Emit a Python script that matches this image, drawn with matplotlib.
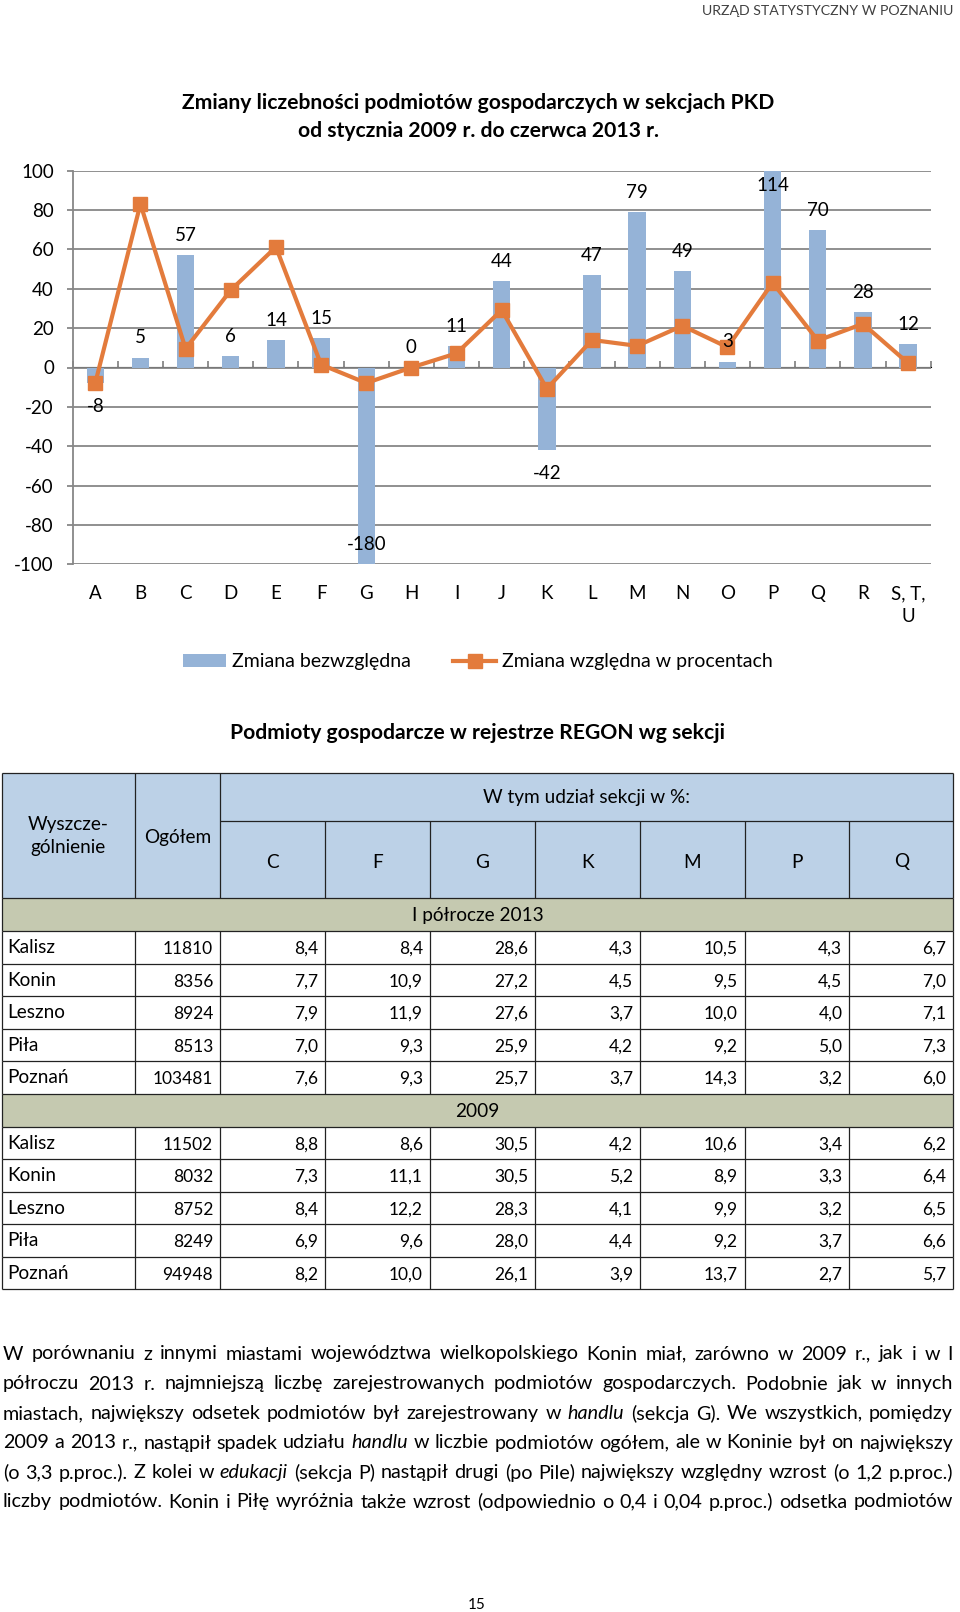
import numpy as np
import matplotlib.pyplot as plt
from matplotlib.patches import Rectangle, Patch
from matplotlib.lines import Line2D

# =============================================================================
# Data
# =============================================================================
sekcje = ['A', 'B', 'C', 'D', 'E', 'F', 'G', 'H', 'I', 'J', 'K', 'L', 'M',
          'N', 'O', 'P', 'Q', 'R', 'S, T,\nU']
zmiana_bezwzgledna = [-8, 5, 57, 6, 14, 15, -180, 0, 11, 44, -42, 47, 79, 49,
                      3, 114, 70, 28, 12]
zmiana_procent = [-7.9, 83.1, 9.5, 39.3, 61.2, 1.5, -7.9, 0.0, 7.2, 29.2,
                  -10.8, 14.0, 11.0, 21.2, 10.3, 43.1, 13.7, 22.2, 2.2]

miasta = ['Kalisz', 'Konin', 'Leszno', 'Piła', 'Poznań']
kolumny = ['C', 'F', 'G', 'K', 'M', 'P', 'Q']
ogolem_2013 = [11810, 8356, 8924, 8513, 103481]
udzialy_2013 = [[8.4, 8.4, 28.6, 4.3, 10.5, 4.3, 6.7],
                [7.7, 10.9, 27.2, 4.5, 9.5, 4.5, 7.0],
                [7.9, 11.9, 27.6, 3.7, 10.0, 4.0, 7.1],
                [7.0, 9.3, 25.9, 4.2, 9.2, 5.0, 7.3],
                [7.6, 9.3, 25.7, 3.7, 14.3, 3.2, 6.0]]
ogolem_2009 = [11502, 8032, 8752, 8249, 94948]
udzialy_2009 = [[8.8, 8.6, 30.5, 4.2, 10.6, 3.4, 6.2],
                [7.3, 11.1, 30.5, 5.2, 8.9, 3.3, 6.4],
                [8.4, 12.2, 28.3, 4.1, 9.9, 3.2, 6.5],
                [6.9, 9.6, 28.0, 4.4, 9.2, 3.7, 6.6],
                [8.2, 10.0, 26.1, 3.9, 13.7, 2.7, 5.7]]

# paragraph lines, *word* = italic
akapit = [
    "W porównaniu z innymi miastami województwa wielkopolskiego Konin miał, zarówno w 2009 r., jak i w I",
    "półroczu 2013 r. najmniejszą liczbę zarejestrowanych podmiotów gospodarczych. Podobnie jak w innych",
    "miastach, największy odsetek podmiotów był zarejestrowany w *handlu* (sekcja G). We wszystkich, pomiędzy",
    "2009 a 2013 r., nastąpił spadek udziału *handlu* w liczbie podmiotów ogółem, ale w Koninie był on największy",
    "(o 3,3 p.proc.). Z kolei w *edukacji* (sekcja P) nastąpił drugi (po Pile) największy względny wzrost (o 1,2 p.proc.)",
    "liczby podmiotów. Konin i Piłę wyróżnia także wzrost (odpowiednio o 0,4 i 0,04 p.proc.) odsetka podmiotów",
]

# =============================================================================
# Settings
# =============================================================================
W, H = 960, 1612
blue = '#95B3D7'
orange = '#E37B3C'
grid_gray = '#878787'
head_blue = '#BCD1E7'
band_col = '#C5C9B0'
line_col = '#222222'
fs_chart = 13.5
fs_word = 13.7
fs_num = 12.5

plt.rcParams['font.family'] = ['Lato', 'DejaVu Sans']
plt.rcParams['axes.unicode_minus'] = False

fig = plt.figure(figsize=(W / 100, H / 100), dpi=100)

# overlay axes in pixel coordinates for texts and the table
ov = fig.add_axes([0, 0, 1, 1])
ov.set_xlim(0, W)
ov.set_ylim(H, 0)
ov.axis('off')

ov.text(953, 11, 'URZĄD STATYSTYCZNY W POZNANIU', ha='right', va='center',
        fontsize=10.2, color='#404040')

# =============================================================================
# Chart
# =============================================================================
ov.text(478, 103, 'Zmiany liczebności podmiotów gospodarczych w sekcjach PKD',
        ha='center', va='center', fontsize=15.2, fontweight='bold')
ov.text(478, 131, 'od stycznia 2009 r. do czerwca 2013 r.',
        ha='center', va='center', fontsize=15.2, fontweight='bold')

ax = fig.add_axes([72.7 / W, 1 - 564.3 / H, (930.7 - 72.7) / W, (564.3 - 170.7) / H])
x = np.arange(len(sekcje))
ax.bar(x, zmiana_bezwzgledna, width=0.385, color=blue, zorder=2)
ax.plot(x, zmiana_procent, color=orange, lw=3, marker='s', ms=10.5, zorder=3)

ax.set_xlim(-0.5, len(sekcje) - 0.5)
ax.set_ylim(-100, 100)
ax.set_yticks(range(-100, 101, 20))
ax.yaxis.grid(True, color=grid_gray, lw=1.3)
ax.set_axisbelow(True)
for s in ['top', 'right', 'bottom']:
    ax.spines[s].set_visible(False)
ax.spines['left'].set_color(grid_gray)
ax.spines['left'].set_linewidth(1.3)
ax.tick_params(axis='y', direction='out', length=4.5, width=1.3, color=grid_gray,
               pad=9, labelsize=fs_chart)
ax.set_xticks(x, sekcje)
ax.tick_params(axis='x', length=0, pad=15, labelsize=fs_chart)
for lab in ax.get_xticklabels():
    lab.set_linespacing(1.45)

# category axis with boundary ticks at y=0
sec = ax.secondary_xaxis(0.5)
sec.set_xticks(np.arange(-0.5, len(sekcje), 1), [''] * (len(sekcje) + 1))
sec.tick_params(direction='out', length=4, width=1.3, color=grid_gray)
sec.spines['bottom'].set_color(grid_gray)
sec.spines['bottom'].set_linewidth(1.3)

# data labels
for xi, v in zip(x, zmiana_bezwzgledna):
    if v > 100:
        ly = 92.5
    elif v < -100:
        ly = -90
    elif v >= 0:
        ly = v + 10
    else:
        ly = v - 12
    ax.text(xi, ly, str(v), ha='center', va='center', fontsize=fs_chart, zorder=4)

handles = [Patch(facecolor=blue),
           Line2D([], [], color=orange, lw=3, marker='s', ms=10.5)]
fig.legend(handles, ['Zmiana bezwzględna', 'Zmiana względna w procentach'],
           loc='center', bbox_to_anchor=(478 / W, 1 - 661.7 / H), ncol=2,
           frameon=False, fontsize=14, handlelength=2.2, handleheight=0.65,
           handletextpad=0.3, columnspacing=2.2)

# =============================================================================
# Table
# =============================================================================
ov.text(478, 733, 'Podmioty gospodarcze w rejestrze REGON wg sekcji',
        ha='center', va='center', fontsize=15.2, fontweight='bold')

col_x = [1.7, 135, 220, 325, 430, 535, 640, 744.5, 849.3, 953.3]
top, split, hbot = 772.7, 821, 898.3
band_h, row_h = 33, 32.5
lw = 0.9

ov.add_patch(Rectangle((col_x[0], top), col_x[-1] - col_x[0], hbot - top,
                       fc=head_blue, ec='none'))
ov.text((col_x[0] + col_x[1]) / 2, 836, 'Wyszcze-\ngólnienie', ha='center',
        va='center', fontsize=fs_word, linespacing=1.4)
ov.text((col_x[1] + col_x[2]) / 2, 837, 'Ogółem', ha='center', va='center', fontsize=fs_word)
ov.text((col_x[2] + col_x[-1]) / 2, 797, 'W tym udział sekcji w %:', ha='center',
        va='center', fontsize=fs_word)
for i, k in enumerate(kolumny):
    ov.text((col_x[i + 2] + col_x[i + 3]) / 2, 862, k, ha='center', va='center',
            fontsize=fs_word)
ov.hlines([top, hbot], col_x[0], col_x[-1], color=line_col, lw=lw)
ov.hlines(split, col_x[2], col_x[-1], color=line_col, lw=lw)
ov.vlines([col_x[0], col_x[1], col_x[2], col_x[-1]], top, hbot, color=line_col, lw=lw)
ov.vlines(col_x[3:-1], split, hbot, color=line_col, lw=lw)


def fmt(v):
    return f'{v:.1f}'.replace('.', ',')


y = hbot
for naglowek, ogolem, udzialy in [('I półrocze 2013', ogolem_2013, udzialy_2013),
                                  ('2009', ogolem_2009, udzialy_2009)]:
    ov.add_patch(Rectangle((col_x[0], y), col_x[-1] - col_x[0], band_h,
                           fc=band_col, ec='none'))
    ov.text((col_x[0] + col_x[-1]) / 2, y + band_h / 2 + 1, naglowek,
            ha='center', va='center', fontsize=fs_word)
    ov.vlines([col_x[0], col_x[-1]], y, y + band_h, color=line_col, lw=lw)
    ov.hlines(y + band_h, col_x[0], col_x[-1], color=line_col, lw=lw)
    y += band_h
    for m, og, row in zip(miasta, ogolem, udzialy):
        ov.text(col_x[0] + 6, y + row_h / 2, m, ha='left', va='center', fontsize=fs_word)
        ov.text(col_x[2] - 7, y + row_h / 2 + 1.5, str(og), ha='right', va='center',
                fontsize=fs_num)
        for j, v in enumerate(row):
            ov.text(col_x[j + 3] - 7, y + row_h / 2 + 1.5, fmt(v), ha='right',
                    va='center', fontsize=fs_num)
        ov.vlines(col_x, y, y + row_h, color=line_col, lw=lw)
        ov.hlines(y + row_h, col_x[0], col_x[-1], color=line_col, lw=lw)
        y += row_h

# =============================================================================
# Paragraph (justified)
# =============================================================================
renderer = fig.canvas.get_renderer()
x0, x1 = 3, 953
line_y = [1354, 1384, 1413.5, 1443, 1472.5, 1502]


def make_words(size):
    rows = []
    for line in akapit:
        words = []
        for w in line.split():
            italic = w.startswith('*')
            w = w.strip('*')
            t = ov.text(0, 0, w, fontsize=size, va='center', ha='left',
                        fontstyle='italic' if italic else 'normal')
            words.append((t, t.get_window_extent(renderer).width))
        rows.append(words)
    return rows


size = 16
while True:
    rows = make_words(size)
    space = ov.text(0, 0, 'a a', fontsize=size).get_window_extent(renderer).width - \
        ov.text(0, 0, 'aa', fontsize=size).get_window_extent(renderer).width
    ov.texts[-1].remove()
    ov.texts[-1].remove()
    natural = max(sum(w for _, w in r) + space * (len(r) - 1) for r in rows)
    if natural <= x1 - x0 or size < 9:
        break
    for r in rows:
        for t, _ in r:
            t.remove()
    size -= 0.25

for r, yy in zip(rows, line_y):
    gap = (x1 - x0 - sum(w for _, w in r)) / (len(r) - 1)
    xx = x0
    for t, w in r:
        t.set_position((xx, yy))
        xx += w + gap

ov.text(477, 1605, '15', ha='center', va='center', fontsize=11)

fig.savefig('out.png', dpi=100)
